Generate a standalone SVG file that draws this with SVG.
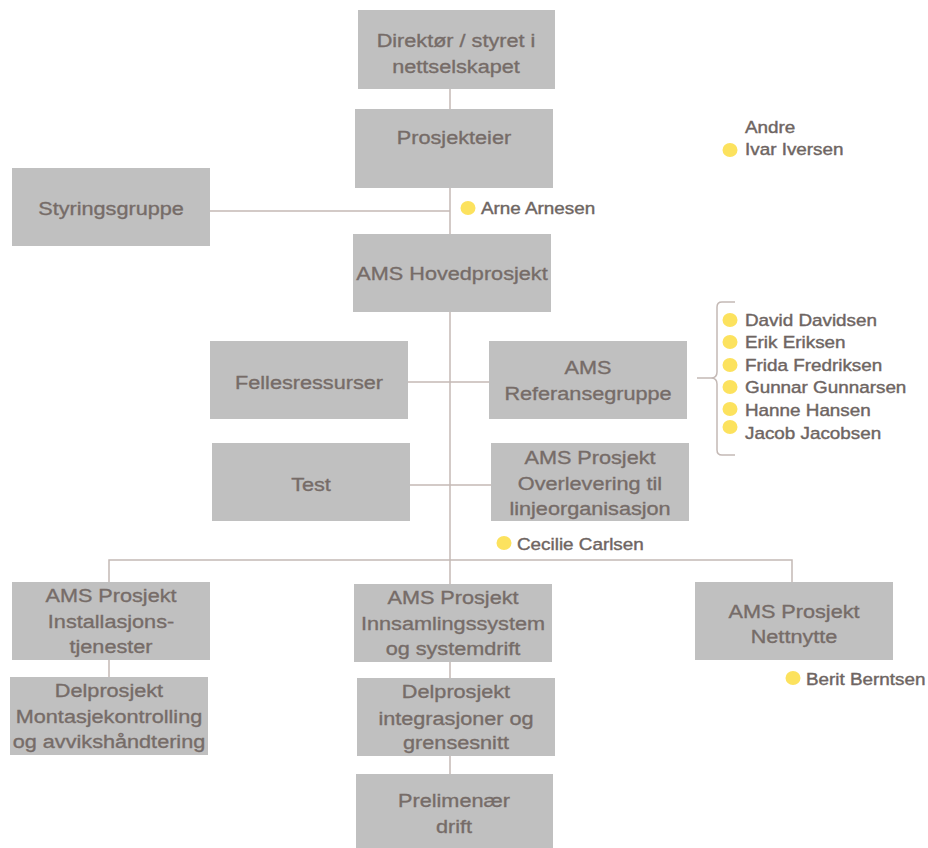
<svg xmlns="http://www.w3.org/2000/svg" width="928" height="848" viewBox="0 0 928 848">
  <style>
    .box { fill: #c0c0c0; }
    .lbl { font-family: "Liberation Sans", Arial, sans-serif; font-size: 19px; fill: #766c68; stroke: #766c68; stroke-width: 0.35; text-anchor: middle; }
    .name { font-family: "Liberation Sans", Arial, sans-serif; font-size: 17px; fill: #6e6562; stroke: #6e6562; stroke-width: 0.4; }
    .dot { fill: #fce25e; }
    .wire { stroke: #c4b9b5; stroke-width: 1.5; fill: none; }
  </style>
  <rect width="928" height="848" fill="#ffffff"/>

  <!-- connectors -->
  <g id="connectors">
    <path class="wire" d="M450,89 V109"/>
    <path class="wire" d="M450,188 V234"/>
    <path class="wire" d="M210,211 H450"/>
    <path class="wire" d="M450,312 V584"/>
    <path class="wire" d="M408,382 H489"/>
    <path class="wire" d="M410,485 H491"/>
    <path class="wire" d="M109,582 V560 H792 V582"/>
    <path class="wire" d="M109,660 V677"/>
    <path class="wire" d="M450,662 V678"/>
    <path class="wire" d="M450,756 V774"/>
    <!-- brace grouping the reference group members -->
    <path class="wire" d="M735,302 H722 Q717,302 717,307 V372 Q717,378 711,378 H697 M711,378 Q717,378 717,384 V450 Q717,455 722,455 H735"/>
  </g>

  <!-- nodes (labels are widened slightly with a horizontal scale) -->
  <g id="direktor">
    <rect class="box" x="358" y="10" width="197" height="79"/>
    <text class="lbl" transform="translate(456,47) scale(1.14,1)">Direktør / styret i</text>
    <text class="lbl" transform="translate(456,73) scale(1.14,1)">nettselskapet</text>
  </g>
  <g id="prosjekteier">
    <rect class="box" x="355" y="109" width="198" height="79"/>
    <text class="lbl" transform="translate(454,144) scale(1.14,1)">Prosjekteier</text>
  </g>
  <g id="styringsgruppe">
    <rect class="box" x="12" y="168" width="198" height="78"/>
    <text class="lbl" transform="translate(111,215) scale(1.14,1)">Styringsgruppe</text>
  </g>
  <g id="hovedprosjekt">
    <rect class="box" x="353" y="234" width="198" height="78"/>
    <text class="lbl" transform="translate(452,280) scale(1.14,1)">AMS Hovedprosjekt</text>
  </g>
  <g id="fellesressurser">
    <rect class="box" x="210" y="341" width="198" height="78"/>
    <text class="lbl" transform="translate(309,389) scale(1.14,1)">Fellesressurser</text>
  </g>
  <g id="referansegruppe">
    <rect class="box" x="489" y="341" width="198" height="78"/>
    <text class="lbl" transform="translate(588,374) scale(1.14,1)">AMS</text>
    <text class="lbl" transform="translate(588,400) scale(1.14,1)">Referansegruppe</text>
  </g>
  <g id="test">
    <rect class="box" x="212" y="443" width="198" height="78"/>
    <text class="lbl" transform="translate(311,491) scale(1.14,1)">Test</text>
  </g>
  <g id="overlevering">
    <rect class="box" x="491" y="443" width="198" height="78"/>
    <text class="lbl" transform="translate(590,464) scale(1.14,1)">AMS Prosjekt</text>
    <text class="lbl" transform="translate(590,490) scale(1.14,1)">Overlevering til</text>
    <text class="lbl" transform="translate(590,515) scale(1.14,1)">linjeorganisasjon</text>
  </g>
  <g id="installasjon">
    <rect class="box" x="12" y="582" width="198" height="78"/>
    <text class="lbl" transform="translate(111,602) scale(1.14,1)">AMS Prosjekt</text>
    <text class="lbl" transform="translate(111,628) scale(1.14,1)">Installasjons-</text>
    <text class="lbl" transform="translate(111,653) scale(1.14,1)">tjenester</text>
  </g>
  <g id="montasjekontroll">
    <rect class="box" x="10" y="677" width="198" height="78"/>
    <text class="lbl" transform="translate(109,697) scale(1.14,1)">Delprosjekt</text>
    <text class="lbl" transform="translate(109,723) scale(1.14,1)">Montasjekontrolling</text>
    <text class="lbl" transform="translate(109,748) scale(1.14,1)">og avvikshåndtering</text>
  </g>
  <g id="innsamling">
    <rect class="box" x="354" y="584" width="198" height="78"/>
    <text class="lbl" transform="translate(453,604) scale(1.14,1)">AMS Prosjekt</text>
    <text class="lbl" transform="translate(453,630) scale(1.14,1)">Innsamlingssystem</text>
    <text class="lbl" transform="translate(453,655) scale(1.14,1)">og systemdrift</text>
  </g>
  <g id="integrasjoner">
    <rect class="box" x="357" y="678" width="198" height="78"/>
    <text class="lbl" transform="translate(456,698) scale(1.14,1)">Delprosjekt</text>
    <text class="lbl" transform="translate(456,725) scale(1.14,1)">integrasjoner og</text>
    <text class="lbl" transform="translate(456,749) scale(1.14,1)">grensesnitt</text>
  </g>
  <g id="prelimenaer">
    <rect class="box" x="356" y="774" width="197" height="80"/>
    <text class="lbl" transform="translate(454,807) scale(1.14,1)">Prelimenær</text>
    <text class="lbl" transform="translate(454,833) scale(1.14,1)">drift</text>
  </g>
  <g id="nettnytte">
    <rect class="box" x="695" y="582" width="198" height="78"/>
    <text class="lbl" transform="translate(794,618) scale(1.14,1)">AMS Prosjekt</text>
    <text class="lbl" transform="translate(794,643) scale(1.14,1)">Nettnytte</text>
  </g>

  <!-- people -->
  <g id="andre">
    <text class="name" transform="translate(745,133) scale(1.11,1)">Andre</text>
    <ellipse class="dot" cx="730" cy="150" rx="7.5" ry="7"/>
    <text class="name" transform="translate(745,155) scale(1.11,1)">Ivar Iversen</text>
  </g>
  <g id="arne">
    <ellipse class="dot" cx="468" cy="208" rx="7.5" ry="7"/>
    <text class="name" transform="translate(481,214) scale(1.11,1)">Arne Arnesen</text>
  </g>
  <g id="referansegruppe-members">
    <ellipse class="dot" cx="730" cy="320" rx="7.5" ry="7"/>
    <text class="name" transform="translate(745,326) scale(1.11,1)">David Davidsen</text>
    <ellipse class="dot" cx="730" cy="342" rx="7.5" ry="7"/>
    <text class="name" transform="translate(745,348) scale(1.11,1)">Erik Eriksen</text>
    <ellipse class="dot" cx="730" cy="365" rx="7.5" ry="7"/>
    <text class="name" transform="translate(745,371) scale(1.11,1)">Frida Fredriksen</text>
    <ellipse class="dot" cx="730" cy="387" rx="7.5" ry="7"/>
    <text class="name" transform="translate(745,393) scale(1.11,1)">Gunnar Gunnarsen</text>
    <ellipse class="dot" cx="730" cy="409" rx="7.5" ry="7"/>
    <text class="name" transform="translate(745,416) scale(1.11,1)">Hanne Hansen</text>
    <ellipse class="dot" cx="730" cy="427" rx="7.5" ry="7"/>
    <text class="name" transform="translate(745,439) scale(1.11,1)">Jacob Jacobsen</text>
  </g>
  <g id="cecilie">
    <ellipse class="dot" cx="504" cy="543" rx="7.5" ry="7"/>
    <text class="name" transform="translate(517,550) scale(1.11,1)">Cecilie Carlsen</text>
  </g>
  <g id="berit">
    <ellipse class="dot" cx="793" cy="678" rx="7.5" ry="7"/>
    <text class="name" transform="translate(806,685) scale(1.11,1)">Berit Berntsen</text>
  </g>
</svg>
